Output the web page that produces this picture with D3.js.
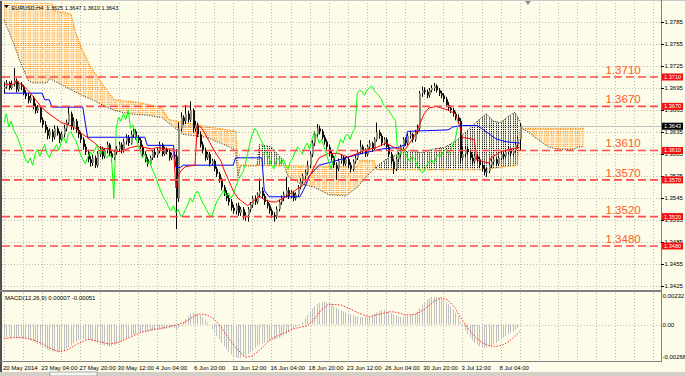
<!DOCTYPE html>
<html>
<head>
<meta charset="utf-8">
<script src="https://cdn.jsdelivr.net/npm/d3@7"></script>
<style>
body { margin: 0; background: #fdfce9; }
svg { display: block; font-family: "Liberation Sans", Arial, sans-serif; }
</style>
</head>
<body>
<div id="chart"></div>
<script>
// EURUSD H4 - prices are pips above 1.3000 (643 -> 1.3643), one entry per bar
var firstOpen = 694;
var closeP = [
  697,702,695,700,705,693,700,697,688,684,678,682,670,664,668,652,
  645,638,630,636,628,640,633,625,632,640,648,660,642,650,638,632,
  625,615,608,598,593,600,590,605,612,602,610,618,606,600,608,612,
  618,610,622,628,620,632,636,628,624,615,605,598,592,600,608,604,
  610,618,605,612,608,600,604,602,545,640,655,650,660,652,665,640,
  645,632,618,610,600,605,592,596,585,578,570,560,552,545,540,532,
  528,535,525,530,520,522,530,536,545,540,550,555,548,540,535,528,
  522,520,530,540,545,550,556,548,552,545,550,560,568,575,580,590,
  605,620,632,640,636,628,622,615,606,600,590,585,596,600,592,598,
  590,585,595,600,608,615,610,605,615,620,612,625,635,630,620,625,
  615,605,595,585,598,605,615,625,620,630,632,625,635,640,688,692,
  690,685,692,695,698,692,688,685,680,672,668,665,660,655,650,600,
  605,612,608,600,595,602,598,590,585,580,582,590,595,598,592,600,
  605,602,608,612,606,610,618,625,643];
var highP = [
  703,706,704,705,722,708,704,703,699,692,688,686,684,674,672,670,
  655,650,642,640,639,644,643,636,636,645,652,669,663,655,653,642,
  636,628,619,611,602,604,603,609,616,615,613,622,620,610,611,616,
  622,621,626,632,631,637,640,639,631,627,618,609,601,603,611,612,
  614,622,620,615,614,611,607,608,612,648,662,658,672,664,677,667,
  650,648,636,622,614,608,608,599,598,588,581,573,563,556,549,544,
  536,538,539,533,533,526,533,540,548,549,553,572,560,551,543,538,
  531,526,534,543,549,554,574,560,556,555,553,563,572,578,584,596,
  609,624,636,646,644,639,631,625,618,609,603,594,599,604,603,601,
  601,594,598,603,611,624,618,613,618,624,622,628,648,638,633,628,
  628,618,608,598,601,608,618,628,628,633,637,634,638,645,691,697,
  696,693,695,699,702,700,695,691,688,683,676,671,668,663,659,654,
  615,616,615,611,604,606,605,601,594,590,586,593,598,602,600,603,
  609,608,611,616,614,613,622,629,647];
var lowP = [
  688,694,692,693,697,689,690,692,685,680,674,675,666,660,661,648,
  641,634,625,626,622,625,630,620,622,628,636,645,638,638,634,627,
  620,611,604,594,588,589,586,587,601,598,599,606,602,595,597,604,
  608,606,607,618,616,618,628,625,620,612,602,594,588,590,597,600,
  600,606,602,603,605,596,597,599,503,540,636,645,646,648,649,634,
  636,628,614,606,596,597,588,589,582,574,566,556,548,541,535,528,
  524,523,521,521,516,514,513,526,532,536,537,546,544,536,531,524,
  518,513,517,527,536,541,546,544,545,541,542,547,557,565,571,577,
  586,601,616,628,632,625,618,611,602,596,586,570,582,592,589,589,
  586,580,582,592,597,605,606,601,602,612,608,609,622,626,616,617,
  611,601,591,578,582,594,601,612,616,617,626,621,622,632,637,683,
  686,681,682,689,691,689,684,681,676,669,664,661,656,651,646,593,
  596,601,604,597,591,592,594,586,581,576,574,579,586,591,589,589,
  597,598,600,605,602,603,607,614,610];

// ichimoku lines as [bar, pips]
var tenkan = [[0,700],[4,700],[5,705],[8,698],[10,692],[12,684],[14,676],[16,668],[18,662],[21,655],[24,648],[27,645],[30,640],[33,632],[36,625],[38,620],[40,614],[44,612],[47,608],[50,610],[53,614],[56,616],[59,614],[62,612],[64,614],[68,612],[71,612],[72,559],[73,576],[74,582],[76,588],[80,590],[81,645],[83,640],[85,628],[87,616],[89,605],[91,595],[92,585],[94,570],[96,555],[98,545],[100,540],[102,535],[104,540],[107,548],[109,543],[112,540],[114,540],[118,547],[122,556],[125,562],[128,575],[130,588],[132,600],[136,606],[140,606],[144,601],[148,606],[152,611],[156,614],[160,620],[164,613],[168,611],[172,630],[174,645],[176,660],[178,668],[181,670],[186,665],[189,660],[191,642],[192,628],[197,625],[198,597],[203,593],[204,600],[208,608],[212,612],[216,614]];
var kijun = [[0,688],[16,688],[17,679],[19,679],[20,669],[33,669],[35,628],[59,628],[60,617],[71,617],[72,587],[74,587],[75,590],[96,590],[97,600],[108,600],[109,556],[111,547],[124,547],[126,560],[128,576],[132,590],[138,595],[143,600],[150,606],[158,612],[165,614],[168,618],[169,636],[186,638],[188,642],[192,644],[198,644],[200,640],[203,633],[206,626],[210,622],[216,620]];
var spanA = [[0,788],[4,756],[7,729],[10,706],[12,702],[18,702],[19,708],[22,703],[26,696],[32,686],[37,679],[43,669],[46,665],[52,660],[60,658],[66,655],[70,645],[75,632],[85,628],[95,614],[97,610],[98,573],[99,589],[106,589],[107,618],[112,615],[116,600],[119,575],[124,565],[130,560],[136,550],[143,548],[148,560],[152,575],[156,588],[160,598],[165,605],[170,610],[175,607],[180,612],[185,615],[190,625],[195,640],[199,652],[202,660],[205,650],[208,648],[211,656],[214,662],[216,650],[217,640],[220,634],[224,624],[228,615],[233,611],[238,611],[241,615],[243,615]];
var spanB = [[0,815],[20,812],[21,800],[28,796],[30,770],[33,745],[36,725],[40,706],[43,692],[46,679],[57,675],[66,668],[69,652],[80,645],[97,636],[98,590],[148,588],[149,596],[155,596],[156,584],[200,584],[210,588],[215,590],[216,640],[243,640]];
var chikouShift = 26;

// MACD(12,26,9) in 0.00001 units: histogram per bar, signal as [bar, value]
var macdHist = [
  -95,-96,-98,-99,-97,-96,-98,-100,-102,-105,-110,-118,-126,-135,-145,-155,
  -165,-174,-182,-190,-196,-200,-202,-200,-195,-188,-178,-166,-152,-138,-126,-116,
  -110,-108,-108,-110,-114,-120,-127,-134,-141,-148,-154,-158,-160,-158,-152,-144,
  -135,-125,-114,-103,-93,-84,-76,-70,-64,-60,-58,-56,-52,-48,-44,-42,
  -40,-38,-36,-33,-30,-26,-22,-25,-45,-28,-5,15,40,62,80,88,
  86,80,70,55,36,15,-8,-32,-58,-84,-110,-136,-160,-182,-202,-220,
  -234,-244,-246,-244,-238,-228,-216,-202,-188,-174,-160,-148,-140,-134,-128,-120,
  -114,-110,-104,-98,-90,-80,-70,-58,-44,-30,-18,-8,2,20,45,70,
  95,118,136,150,160,166,168,166,160,150,138,124,112,102,95,90,
  82,75,68,62,58,56,56,60,62,60,68,78,90,100,106,107,
  104,96,86,76,66,60,58,60,62,64,68,74,80,95,120,145,
  165,182,195,203,205,204,200,192,180,166,150,132,110,86,60,20,
  -15,-45,-72,-96,-118,-136,-150,-162,-170,-172,-170,-165,-156,-146,-134,-120,
  -108,-96,-84,-72,-62,-52,-40,-25,7];
var macdSignal = [[0,-105],[4,-95],[8,-97],[12,-110],[16,-140],[20,-180],[23,-200],[26,-190],[30,-150],[35,-108],[40,-125],[44,-143],[48,-130],[52,-100],[57,-60],[62,-38],[68,-20],[72,-5],[76,20],[80,65],[82,78],[85,70],[88,40],[91,-20],[94,-100],[97,-170],[101,-240],[104,-230],[107,-190],[111,-118],[116,-70],[121,-33],[124,-20],[127,-10],[130,40],[133,110],[136,150],[141,144],[145,115],[149,80],[153,58],[157,75],[162,95],[165,88],[168,70],[172,75],[176,110],[180,170],[183,198],[186,180],[189,120],[191,58],[194,-20],[197,-85],[200,-130],[203,-155],[206,-162],[209,-150],[212,-120],[216,-51]];

var timeLabels = ["20 May 2014","23 May 04:00","27 May 20:00","30 May 12:00","4 Jun 04:00","6 Jun 20:00","11 Jun 12:00","16 Jun 04:00","18 Jun 20:00","23 Jun 12:00","26 Jun 04:00","30 Jun 20:00","3 Jul 12:00","8 Jul 04:00"];
var priceTicks = [1.3785,1.3755,1.3725,1.3695,1.3665,1.3635,1.3605,1.3575,1.3545,1.3515,1.3485,1.3455,1.3425];
var levels = [1.3710,1.3670,1.3610,1.3570,1.3520,1.3480];
var lastPrice = 1.3643;
var macdTicks = [0.00232, 0, -0.00268];
var title = "EURUSD,H4  1.3625 1.3647 1.3610 1.3643";
var macdTitle = "MACD(12,26,9) 0.00007 -0.00051";

var width = 685, height = 376;
var axisX = 661, mainTop = 3, mainBot = 290, macdTop = 293, macdBot = 361;

var px = function(v) { return 1.3 + v / 10000; };
var x = d3.scaleLinear().domain([0, 208]).range([4, 500.6]);
var y = d3.scaleLinear().domain([1.3480, 1.3710]).range([246, 77]);
var ym = d3.scaleLinear().domain([-0.00268, 0.00232]).range([macdBot, macdTop]);
var sx = function(i) { return Math.round(x(i)) + 0.5; };

var svg = d3.select("#chart").append("svg")
    .attr("width", width).attr("height", height);

// window frame
svg.append("rect").attr("width", width).attr("height", height).attr("fill", "#fdfce9");
svg.append("rect").attr("x", 0).attr("y", 0).attr("width", 2).attr("height", 372).attr("fill", "#505050");
svg.append("line").attr("x1", 0).attr("x2", width).attr("y1", 0.5).attr("y2", 0.5).attr("stroke", "#c8c8c8");
svg.append("rect").attr("x", 0).attr("y", 372).attr("width", width).attr("height", 4).attr("fill", "#d4d0c8");
svg.append("rect").attr("x", 50).attr("y", 372).attr("width", 47).attr("height", 4)
    .attr("fill", "#f4f4f0").attr("stroke", "#808080").attr("stroke-width", 0.6);

var defs = svg.append("defs");
defs.append("clipPath").attr("id", "mainClip").append("rect")
    .attr("x", 2).attr("y", mainTop).attr("width", axisX - 2).attr("height", mainBot - mainTop);
defs.append("clipPath").attr("id", "macdClip").append("rect")
    .attr("x", 2).attr("y", macdTop).attr("width", axisX - 2).attr("height", macdBot - macdTop);

function side(id, pts, toTop) {
  var a = d3.area()
      .x(function(d) { return x(d[0]); })
      .y0(toTop ? mainTop - 5 : mainBot + 5)
      .y1(function(d) { return y(px(d[1])); });
  defs.append("clipPath").attr("id", id).append("path").attr("d", a(pts));
}
side("aboveA", spanA, true);
side("belowA", spanA, false);
side("aboveB", spanB, true);
side("belowB", spanB, false);

// grid
var grid = svg.append("g").attr("stroke", "#bcbcbc").attr("stroke-dasharray", "1,2");
var vticks = d3.range(0, 280, 8).filter(function(i) { return x(i) < axisX - 2; });
grid.selectAll(".vm").data(vticks).join("line")
    .attr("x1", sx).attr("x2", sx).attr("y1", mainTop).attr("y2", mainBot);
grid.selectAll(".vd").data(vticks).join("line")
    .attr("x1", sx).attr("x2", sx).attr("y1", macdTop).attr("y2", macdBot);
grid.selectAll(".h").data(priceTicks).join("line")
    .attr("x1", 2).attr("x2", axisX)
    .attr("y1", function(d) { return Math.round(y(d)) + 0.5; })
    .attr("y2", function(d) { return Math.round(y(d)) + 0.5; });
grid.append("line").attr("x1", 2).attr("x2", axisX)
    .attr("y1", Math.round(ym(0)) + 0.5).attr("y2", Math.round(ym(0)) + 0.5);

var main = svg.append("g").attr("clip-path", "url(#mainClip)");

// kumo: orange where span B is above span A, dark where A is above B
var lastSpan = spanA[spanA.length - 1][0];
function hatch(g, color, w, dash) {
  g.selectAll("line").data(d3.range(0, lastSpan + 1)).join("line")
      .attr("x1", sx).attr("x2", sx).attr("y1", mainTop).attr("y2", mainBot)
      .attr("stroke", color).attr("stroke-width", w).attr("stroke-dasharray", dash);
}
hatch(main.append("g").attr("clip-path", "url(#belowB)").append("g").attr("clip-path", "url(#aboveA)"),
      "#ffa236", 1.7, "1,1.1");
hatch(main.append("g").attr("clip-path", "url(#belowA)").append("g").attr("clip-path", "url(#aboveB)"),
      "#1a1a1a", 1, "1.2,0.9");

var pline = d3.line()
    .x(function(d) { return x(d[0]); })
    .y(function(d) { return y(px(d[1])); });
main.append("path").attr("d", pline(spanA)).attr("fill", "none")
    .attr("stroke", "#202020").attr("stroke-dasharray", "1,1.5");
main.append("path").attr("d", pline(spanB)).attr("fill", "none")
    .attr("stroke", "#ff8c00").attr("stroke-width", 1.3).attr("stroke-dasharray", "1.3,1.2");

// bid line
main.append("line").attr("x1", 2).attr("x2", axisX)
    .attr("y1", Math.round(y(lastPrice)) + 0.5).attr("y2", Math.round(y(lastPrice)) + 0.5)
    .attr("stroke", "#c0c0c0");

// candles
var bars = closeP.map(function(c, i) {
  return { i: i, o: i ? closeP[i - 1] : firstOpen, h: highP[i], l: lowP[i], c: c };
});
var cg = main.append("g");
cg.selectAll(".wick").data(bars).join("line")
    .attr("x1", function(d) { return sx(d.i); })
    .attr("x2", function(d) { return sx(d.i); })
    .attr("y1", function(d) { return y(px(d.h)); })
    .attr("y2", function(d) { return y(px(d.l)); })
    .attr("stroke", "#000");
cg.selectAll(".body").data(bars).join("rect")
    .attr("x", function(d) { return Math.round(x(d.i)); })
    .attr("width", 2)
    .attr("y", function(d) { return y(px(Math.max(d.o, d.c))); })
    .attr("height", function(d) { return Math.max(1, Math.abs(y(px(d.o)) - y(px(d.c)))); })
    .attr("fill", function(d) { return d.c >= d.o ? "#8e8e7e" : "#111"; });

// tenkan, kijun, chikou
main.append("path").attr("d", pline(kijun)).attr("fill", "none").attr("stroke", "#0000ff");
main.append("path").attr("d", pline(tenkan)).attr("fill", "none").attr("stroke", "#ff0000");
var chikou = closeP.slice(chikouShift).map(function(c, i) { return [i, c]; });
main.append("path").attr("d", pline(chikou)).attr("fill", "none").attr("stroke", "#00ff00");

// support / resistance levels
main.selectAll(".lvl").data(levels).join("line")
    .attr("x1", 2).attr("x2", axisX)
    .attr("y1", function(d) { return y(d); }).attr("y2", function(d) { return y(d); })
    .attr("stroke", "#ff4a4a").attr("stroke-width", 1.6).attr("stroke-dasharray", "8,4");
svg.selectAll(".lvlt").data(levels).join("text")
    .attr("x", 605.5).attr("y", function(d) { return y(d) - 3; })
    .attr("font-size", 11.5).attr("fill", "#ff5a26")
    .text(function(d) { return d.toFixed(4); });

// MACD panel
var mg = svg.append("g").attr("clip-path", "url(#macdClip)");
mg.selectAll(".hist").data(macdHist).join("line")
    .attr("x1", function(d, i) { return sx(i); })
    .attr("x2", function(d, i) { return sx(i); })
    .attr("y1", ym(0))
    .attr("y2", function(d) { return ym(d / 100000); })
    .attr("stroke", "#c0c0c0");
mg.append("path")
    .attr("d", d3.line()
      .x(function(d) { return x(d[0]); })
      .y(function(d) { return ym(d[1] / 100000); })(macdSignal))
    .attr("fill", "none").attr("stroke", "#ff2a2a").attr("stroke-dasharray", "1.5,1.5");

// panel borders
svg.append("line").attr("x1", 0).attr("x2", axisX).attr("y1", 291).attr("y2", 291)
    .attr("stroke", "#808080").attr("stroke-width", 2);
svg.append("line").attr("x1", 0).attr("x2", axisX + 0.5).attr("y1", macdBot + 0.5).attr("y2", macdBot + 0.5)
    .attr("stroke", "#808080");
svg.append("line").attr("x1", axisX + 0.5).attr("x2", axisX + 0.5).attr("y1", 0).attr("y2", macdBot + 1)
    .attr("stroke", "#808080");
svg.append("path").attr("d", "M525,1L531,1L528,5Z").attr("fill", "#909090");

// price axis
var ax = svg.append("g").attr("font-size", 6).attr("fill", "#000");
ax.selectAll(".tk").data(priceTicks).join("line")
    .attr("x1", axisX).attr("x2", axisX + 3)
    .attr("y1", function(d) { return Math.round(y(d)) + 0.5; })
    .attr("y2", function(d) { return Math.round(y(d)) + 0.5; })
    .attr("stroke", "#000");
ax.selectAll(".tl").data(priceTicks).join("text")
    .attr("x", axisX + 3.5).attr("y", function(d) { return y(d) + 2; })
    .text(function(d) { return d.toFixed(4); });

function tag(v, color) {
  var g = svg.append("g");
  g.append("rect").attr("x", axisX + 1).attr("y", y(v) - 3.5).attr("width", 21).attr("height", 7)
      .attr("fill", color);
  g.append("text").attr("x", axisX + 3).attr("y", y(v) + 2).attr("font-size", 5.6)
      .attr("fill", "#fff").text(v.toFixed(4));
}
levels.forEach(function(v) { tag(v, "#f01010"); });
tag(lastPrice, "#000");

// MACD axis
svg.selectAll(".mt").data(macdTicks).join("text")
    .attr("x", axisX + 1.5)
    .attr("y", function(d, i) { return ym(d) + [4.5, 2, -2.5][i]; })
    .attr("font-size", 6)
    .text(function(d) { return d === 0 ? "0.00" : d.toFixed(5); });

// time axis
svg.selectAll(".tt").data(timeLabels).join("text")
    .attr("x", function(d, k) { return x(16 * k) - 1; })
    .attr("y", 369.5).attr("font-size", 6)
    .text(function(d) { return d; });

// captions
svg.append("path").attr("d", "M4,5L9,5L6.5,8Z").attr("fill", "#000");
svg.append("text").attr("x", 11.5).attr("y", 9.5).attr("font-size", 5.5)
    .attr("xml:space", "preserve").text(title);
svg.append("text").attr("x", 5).attr("y", 300).attr("font-size", 6).text(macdTitle);
</script>
</body>
</html>
